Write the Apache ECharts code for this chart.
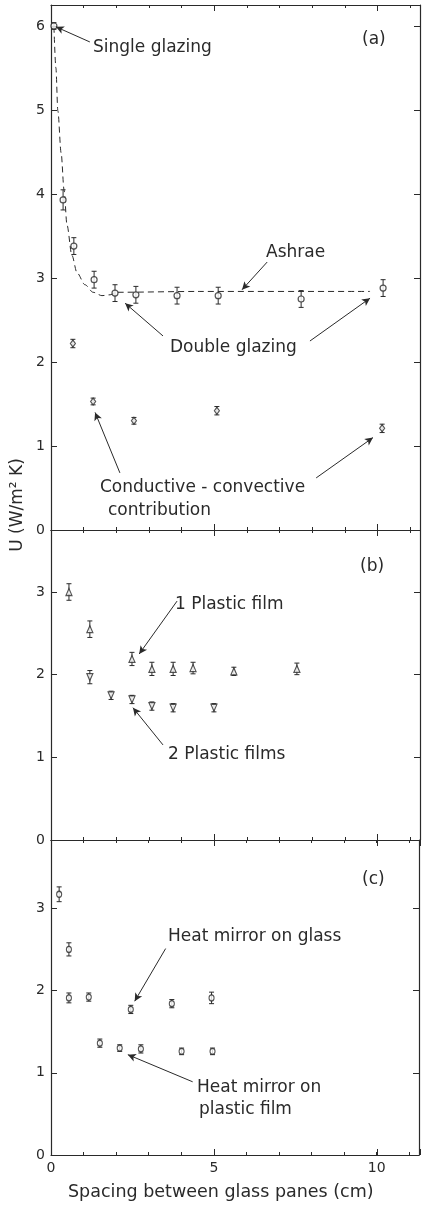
<!DOCTYPE html>
<html>
<head>
<meta charset="utf-8">
<title>U-value vs spacing</title>
<script src="https://cdn.jsdelivr.net/npm/echarts@6/dist/echarts.min.js"></script>
<style>
html,body{margin:0;padding:0;background:#fff;}
#chart{width:422px;height:1206px;}
</style>
</head>
<body>
<div id="chart"></div>
<script>
(function(){
/* ---------- data: panel (a) ---------- */
const dblX   = [0.09, 0.37, 0.70, 1.32, 1.96, 2.60, 3.86, 5.12, 7.66, 10.17];
const dblU   = [6.00, 3.93, 3.38, 2.98, 2.82, 2.80, 2.79, 2.79, 2.75, 2.88];
const dblErr = [0.04, 0.12, 0.10, 0.10, 0.10, 0.10, 0.10, 0.10, 0.10, 0.10];

const convX   = [0.67, 1.29, 2.54, 5.08, 10.14];
const convU   = [2.22, 1.53, 1.30, 1.42, 1.21];
const convErr = [0.05, 0.04, 0.04, 0.05, 0.05];

const ashraeX = [0.09, 0.15, 0.21, 0.31, 0.40, 0.49, 0.64, 0.80, 1.04, 1.29, 1.56, 1.81, 1.99, 4.56, 9.77];
const ashraeU = [5.99, 5.50, 4.99, 4.49, 4.05, 3.63, 3.27, 3.06, 2.92, 2.83, 2.79, 2.80, 2.83, 2.84, 2.84];

/* ---------- data: panel (b) ---------- */
const film1X   = [0.55, 1.19, 2.48, 3.09, 3.74, 4.35, 5.60, 7.53];
const film1U   = [3.00, 2.55, 2.19, 2.07, 2.07, 2.08, 2.04, 2.07];
const film1Err = [0.10, 0.10, 0.08, 0.08, 0.08, 0.07, 0.05, 0.07];

const film2X   = [1.19, 1.84, 2.48, 3.09, 3.74, 4.99];
const film2U   = [1.97, 1.75, 1.70, 1.62, 1.60, 1.60];
const film2Err = [0.08, 0.05, 0.05, 0.05, 0.05, 0.05];

/* ---------- data: panel (c) ---------- */
const hmGlassX   = [0.55, 1.16, 2.45, 3.71, 4.93];
const hmGlassU   = [1.91, 1.92, 1.77, 1.84, 1.91];
const hmGlassErr = [0.06, 0.05, 0.05, 0.05, 0.07];

const hmFilmX   = [0.25, 0.55, 1.50, 2.11, 2.76, 4.01, 4.96];
const hmFilmU   = [3.17, 2.50, 1.36, 1.30, 1.29, 1.26, 1.26];
const hmFilmErr = [0.09, 0.08, 0.05, 0.04, 0.05, 0.04, 0.04];

/* ---------- axes ---------- */
const XMAX = 11.3;
const YMAX = [6.25, 3.75, 3.83];
const X_LABELS = [0, 5, 10];

/* ---------- annotation arrows [x1,y1 -> x2,y2] in data units ---------- */
const arrowsA = [[1.19,5.81, 0.15,5.99], [6.62,3.19, 5.85,2.86], [3.43,2.31, 2.27,2.70],
                 [7.93,2.25, 9.77,2.76], [2.11,0.68, 1.35,1.40], [8.12,0.62, 9.86,1.10]];
const arrowsB = [[3.86,2.89, 2.70,2.25], [3.43,1.15, 2.51,1.60]];
const arrowsC = [[3.52,2.51, 2.57,1.87], [4.35,0.89, 2.36,1.22]];

/* ---------- style ---------- */
const INK = '#2a2a2a';
const FONT = '"DejaVu Sans", sans-serif';
const G = [{top:5,height:525},{top:530,height:310},{top:840,height:315}];

function rows(xs,ys,es){ return xs.map((x,i)=>[x, ys[i], es? es[i]:0]); }

function errBars(p, xs, ys, es){
  return {type:'custom', xAxisIndex:2*p, yAxisIndex:2*p, data:rows(xs,ys,es), z:2, silent:true,
    renderItem:(params, api)=>{
      const x=api.value(0), y=api.value(1), e=api.value(2);
      const a=api.coord([x,y+e]), b=api.coord([x,y-e]);
      const w=2.5, st={stroke:INK, lineWidth:1};
      return {type:'group', children:[
        {type:'line', shape:{x1:a[0],y1:a[1],x2:b[0],y2:b[1]}, style:st},
        {type:'line', shape:{x1:a[0]-w,y1:a[1],x2:a[0]+w,y2:a[1]}, style:st},
        {type:'line', shape:{x1:b[0]-w,y1:b[1],x2:b[0]+w,y2:b[1]}, style:st}
      ]};
    }};
}

function arrowLines(list){
  return {silent:true, animation:false, symbol:['none','arrow'], symbolSize:[6,8],
    label:{show:false}, lineStyle:{color:INK, width:1, type:'solid'},
    itemStyle:{color:INK},
    emphasis:{disabled:true},
    data:list.map(a=>[{coord:[a[0],a[1]]},{coord:[a[2],a[3]]}])};
}

function marks(p, xs, ys, symbol, size, rotate, arrows){
  const s = {type:'scatter', xAxisIndex:2*p, yAxisIndex:2*p, data:rows(xs,ys).map(r=>[r[0],r[1]]),
    symbol:symbol, symbolSize:size, symbolRotate:rotate||0, z:4, silent:true,
    itemStyle:{color:'#fff', borderColor:INK, borderWidth:1.2}};
  if(arrows) s.markLine = arrowLines(arrows);
  return s;
}

/* ---------- axes builders ---------- */
const xAxes=[], yAxes=[], grids=[];
G.forEach(g=>{ grids.push({left:51, right:2, top:g.top, height:g.height}); });
G.forEach(g=>{ grids.push({left:51, right:2, top:g.top, height:g.height}); }); // long ticks at 5, 10

function xAx(grid,pos,labels,interval,len,line){
  return {type:'value', gridIndex:grid, position:pos, min:0, max:XMAX, interval:interval,
    axisLine:{show:line, onZero:false, lineStyle:{color:INK, width:1.2}},
    axisTick:{show:true, inside:true, length:len, lineStyle:{color:INK, width:1}},
    axisLabel:{show:labels, color:INK, fontSize:14, fontFamily:FONT, margin:6,
      formatter:v=> X_LABELS.indexOf(v)>=0? String(v):''},
    splitLine:{show:false}};
}
G.forEach((g,i)=>{
  xAxes.push(xAx(i,'bottom', i===2, 1, 3, true));
  xAxes.push(xAx(i,'top', false, 1, 3, true));
});
G.forEach((g,i)=>{
  xAxes.push(xAx(3+i,'bottom', false, 5, 6, false));
  xAxes.push(xAx(3+i,'top', false, 5, 6, false));
});
function yAx(grid,max,pos){
  return {type:'value', gridIndex:grid, position:pos, min:0, max:max, interval:1,
    axisLine:{show:true, onZero:false, lineStyle:{color:INK, width:1.2}},
    axisTick:{show:true, inside:true, length:6, lineStyle:{color:INK, width:1}},
    axisLabel:{show:pos==='left', color:INK, fontSize:14, fontFamily:FONT, margin:6,
      formatter:v=> Number.isInteger(v)? String(v):''},
    splitLine:{show:false}};
}
G.forEach((g,i)=>{
  yAxes.push(yAx(i,YMAX[i],'left'));
  yAxes.push(yAx(i,YMAX[i],'right'));
});
G.forEach((g,i)=>{
  yAxes.push({type:'value', gridIndex:3+i, min:0, max:YMAX[i], show:false});
});

/* ---------- texts ---------- */
function txt(s,x,y,size){
  return {type:'text', x:x, y:y, silent:true,
    style:{text:s, fill:INK, fontSize:size||17, fontFamily:FONT, align:'left', verticalAlign:'middle'}};
}
const graphics = [
  txt('Single glazing', 93, 48),
  txt('(a)', 362, 40),
  txt('Ashrae', 266, 253),
  txt('Double glazing', 170, 348),
  txt('Conductive - convective', 100, 488),
  txt('contribution', 108, 511),
  txt('(b)', 360, 567),
  txt('1 Plastic film', 175, 605),
  txt('2 Plastic films', 168, 755),
  txt('(c)', 362, 880),
  txt('Heat mirror on glass', 168, 937),
  txt('Heat mirror on', 197, 1088),
  txt('plastic film', 199, 1110),
  txt('Spacing between glass panes (cm)', 68, 1192, 17.5),
  {type:'text', x:18, y:505, rotation:Math.PI/2, silent:true,
    style:{text:'U (W/m² K)', fill:INK, fontSize:17, fontFamily:FONT, align:'center', verticalAlign:'middle'}}
];

/* ---------- series ---------- */
const series = [
  {type:'line', xAxisIndex:0, yAxisIndex:0, data:rows(ashraeX,ashraeU).map(r=>[r[0],r[1]]),
    showSymbol:false, smooth:0.3, smoothMonotone:'x', silent:true, z:1,
    lineStyle:{color:INK, width:1, type:[6,4]}},
  errBars(0, dblX, dblU, dblErr),
  marks(0, dblX, dblU, 'circle', 6, 0, arrowsA),
  errBars(0, convX, convU, convErr),
  marks(0, convX, convU, 'diamond', [5,7]),
  errBars(1, film1X, film1U, film1Err),
  marks(1, film1X, film1U, 'triangle', [6,7], 0, arrowsB),
  errBars(1, film2X, film2U, film2Err),
  marks(1, film2X, film2U, 'triangle', [6,7], 180),
  errBars(2, hmGlassX, hmGlassU, hmGlassErr),
  marks(2, hmGlassX, hmGlassU, 'circle', [5,6], 0, arrowsC),
  errBars(2, hmFilmX, hmFilmU, hmFilmErr),
  marks(2, hmFilmX, hmFilmU, 'circle', [5,6])
];

const chart = echarts.init(document.getElementById('chart'), null, {renderer:'canvas'});
chart.setOption({
  animation:false,
  backgroundColor:'#fff',
  grid:grids,
  xAxis:xAxes,
  yAxis:yAxes,
  graphic:graphics,
  series:series
});
})();
</script>
</body>
</html>
